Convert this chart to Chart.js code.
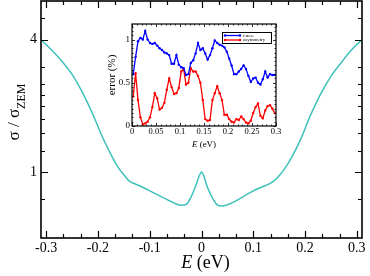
<!DOCTYPE html>
<html>
<head>
<meta charset="utf-8">
<script src="https://cdn.jsdelivr.net/npm/chart.js@4.4.1/dist/chart.umd.min.js"></script>
<style>
html, body { margin: 0; padding: 0; background: #fff; }
#wrap { position: relative; width: 370px; height: 276px; }
#main { position: absolute; left: 0; top: 0; }
#inset { position: absolute; left: 100px; top: 14px; }
</style>
</head>
<body>
<div id="wrap">
  <canvas id="main" width="370" height="276"></canvas>
  <canvas id="inset" width="190" height="136"></canvas>
</div>
<script>
// main panel: sigma / sigma_ZEM vs E
const energy = [-0.31, -0.29, -0.27, -0.25, -0.23, -0.21, -0.19, -0.17, -0.16, -0.15, -0.14, -0.13, -0.12,
  -0.10, -0.08, -0.06, -0.04, -0.03, -0.02, -0.01, -0.005, 0, 0.005, 0.01, 0.02, 0.03, 0.04, 0.06, 0.08,
  0.10, 0.12, 0.13, 0.14, 0.15, 0.16, 0.17, 0.19, 0.21, 0.23, 0.25, 0.27, 0.29, 0.31];
const sigmaRatio = [4.0, 3.6, 3.2, 2.78, 2.3, 1.83, 1.42, 1.14, 1.04, 0.97, 0.91, 0.885, 0.865,
  0.82, 0.775, 0.735, 0.705, 0.71, 0.77, 0.88, 0.95, 1.0, 0.95, 0.87, 0.77, 0.71, 0.70, 0.725, 0.77,
  0.82, 0.86, 0.88, 0.91, 0.96, 1.03, 1.12, 1.38, 1.8, 2.26, 2.72, 3.15, 3.6, 4.0];
const xTicks = [-0.3, -0.2, -0.1, 0, 0.1, 0.2, 0.3];
const xMinorTicks = [-0.3, -0.2667, -0.2333, -0.2, -0.1667, -0.1333, -0.1, -0.0667, -0.0333, 0, 0.0333, 0.0667,
  0.1, 0.1333, 0.1667, 0.2, 0.2333, 0.2667, 0.3];
const yTicks = [0.75, 1, 1.25, 1.5, 1.75, 2, 2.25, 2.5, 3, 4, 5];
const yLabels = [1, 4];

// inset: error (%) vs E
const errE = [0.0025, 0.0075, 0.0125, 0.0175, 0.0225, 0.0275, 0.0325, 0.0375, 0.0425, 0.0475,
  0.0525, 0.0575, 0.0625, 0.0675, 0.0725, 0.0775, 0.0825, 0.0875, 0.0925, 0.0975,
  0.1025, 0.1075, 0.1125, 0.1175, 0.1225, 0.1275, 0.1325, 0.1375, 0.1425, 0.1475,
  0.1525, 0.1575, 0.1625, 0.1675, 0.1725, 0.1775, 0.1825, 0.1875, 0.1925, 0.1975,
  0.2025, 0.2075, 0.2125, 0.2175, 0.2225, 0.2275, 0.2325, 0.2375, 0.2425, 0.2475,
  0.2525, 0.2575, 0.2625, 0.2675, 0.2725, 0.2775, 0.2825, 0.2875, 0.2925, 0.2975];
const rmsErr = [0.60, 0.80, 0.98, 1.02, 1.00, 1.10, 1.00, 0.96, 0.95, 0.96,
  0.93, 0.90, 0.88, 0.85, 0.84, 0.82, 0.72, 0.72, 0.82, 0.71,
  0.68, 0.67, 0.59, 0.60, 0.73, 0.76, 0.84, 0.96, 0.88, 0.90,
  0.84, 0.77, 0.82, 0.90, 0.99, 0.96, 0.94, 0.93, 0.91, 0.86,
  0.78, 0.70, 0.60, 0.60, 0.63, 0.66, 0.70, 0.66, 0.58, 0.51,
  0.55, 0.56, 0.50, 0.48, 0.54, 0.63, 0.56, 0.60, 0.59, 0.59];
const asymErr = [0.34, 0.61, 0.30, 0.10, 0.02, 0.03, 0.05, 0.10, 0.22, 0.38,
  0.32, 0.19, 0.21, 0.27, 0.42, 0.55, 0.45, 0.37, 0.38, 0.44,
  0.63, 0.66, 0.48, 0.50, 0.67, 0.63, 0.63, 0.58, 0.50, 0.30,
  0.08, 0.06, 0.07, 0.30, 0.38, 0.46, 0.38, 0.30, 0.13, 0.13,
  0.08, 0.05, 0.04, 0.08, 0.07, 0.11, 0.08, 0.04, 0.03, 0.06,
  0.15, 0.22, 0.26, 0.12, 0.09, 0.18, 0.23, 0.24, 0.20, 0.15];
const insetXTicks = [0, 0.05, 0.1, 0.15, 0.2, 0.25, 0.3];
const insetXMinor = [0.01, 0.02, 0.03, 0.04, 0.06, 0.07, 0.08, 0.09, 0.11, 0.12, 0.13, 0.14, 0.16, 0.17, 0.18, 0.19,
  0.21, 0.22, 0.23, 0.24, 0.26, 0.27, 0.28, 0.29];
const insetYTicks = [0, 0.5, 1];
const insetYMinor = [0.05, 0.1, 0.15, 0.2, 0.25, 0.3, 0.35, 0.4, 0.45, 0.55, 0.6, 0.65, 0.7, 0.75, 0.8, 0.85, 0.9, 0.95, 1.05, 1.1, 1.15];
const seriesNames = ['r.m.s.', 'asymmetry'];

const SERIF = '"Liberation Serif", "DejaVu Serif", serif';

// frame with inward ticks on all four sides
const framePlugin = {
  id: 'frame',
  afterDraw(chart, args, o) {
    const { ctx, chartArea: a } = chart;
    const x = chart.scales.x, y = chart.scales.y;
    ctx.save();
    ctx.strokeStyle = '#000';
    ctx.lineWidth = o.tickWidth;
    ctx.beginPath();
    const xt = (vals, len) => vals.forEach(v => {
      const p = Math.round(x.getPixelForValue(v)) + 0.5;
      ctx.moveTo(p, a.bottom); ctx.lineTo(p, a.bottom - len);
      ctx.moveTo(p, a.top); ctx.lineTo(p, a.top + len);
    });
    const yt = (vals, len) => vals.forEach(v => {
      const p = Math.round(y.getPixelForValue(v)) + 0.5;
      ctx.moveTo(a.left, p); ctx.lineTo(a.left + len, p);
      ctx.moveTo(a.right, p); ctx.lineTo(a.right - len, p);
    });
    xt(o.xMinor, o.minor); xt(o.xMajor, o.major);
    yt(o.yMinor, o.minor); yt(o.yMajor, o.major);
    ctx.stroke();
    ctx.lineWidth = o.border;
    ctx.strokeRect(a.left, a.top, a.width, a.height);
    ctx.restore();
  }
};

const fixAxis = (w, h) => s => {
  if (w) s.width = w;
  if (h) s.height = h;
  s.paddingLeft = 0; s.paddingRight = 0; s.paddingTop = 0; s.paddingBottom = 0;
};

// main chart titles (E italic, sigma with subscript)
const mainTitles = {
  id: 'mainTitles',
  afterDraw(chart) {
    const ctx = chart.ctx, a = chart.chartArea;
    ctx.save();
    ctx.fillStyle = '#000';
    ctx.textBaseline = 'alphabetic';
    ctx.textAlign = 'left';
    ctx.font = 'italic 18px ' + SERIF;
    const w1 = ctx.measureText('E').width;
    ctx.font = '18px ' + SERIF;
    const w2 = ctx.measureText(' (eV)').width;
    let x0 = (a.left + a.right) / 2 + 4 - (w1 + w2) / 2;
    ctx.font = 'italic 18px ' + SERIF;
    ctx.fillText('E', x0, 268);
    ctx.font = '18px ' + SERIF;
    ctx.fillText(' (eV)', x0 + w1, 268);

    ctx.translate(19, 112);
    ctx.rotate(-Math.PI / 2);
    ctx.font = '17px ' + SERIF;
    const m1 = ctx.measureText('\u03c3 / \u03c3').width;
    ctx.font = '12px ' + SERIF;
    const m2 = ctx.measureText('ZEM').width;
    const s = -(m1 + m2) / 2;
    ctx.font = '17px ' + SERIF;
    ctx.fillText('\u03c3 / \u03c3', s, 0);
    ctx.font = '12px ' + SERIF;
    ctx.fillText('ZEM', s + m1, 6);
    ctx.restore();
  }
};

new Chart(document.getElementById('main'), {
  type: 'line',
  data: {
    datasets: [{
      data: energy.map((e, i) => ({ x: e, y: sigmaRatio[i] })),
      borderColor: '#3fc1bb',
      borderWidth: 1.5,
      pointRadius: 0,
      cubicInterpolationMode: 'monotone',
      fill: false
    }]
  },
  options: {
    responsive: false,
    animation: false,
    layout: { padding: { left: 0, top: 1, right: 8, bottom: 0 } },
    plugins: {
      legend: { display: false },
      tooltip: { enabled: false },
      frame: { xMajor: xTicks, xMinor: xMinorTicks, yMajor: yLabels, yMinor: yTicks, major: 7, minor: 4, tickWidth: 1.2, border: 1.6 }
    },
    scales: {
      x: {
        type: 'linear', min: -0.31, max: 0.31,
        grid: { display: false, drawTicks: false },
        border: { display: false },
        afterBuildTicks: s => { s.ticks = xTicks.map(v => ({ value: v })); },
        afterFit: fixAxis(0, 38),
        ticks: {
          padding: 2, color: '#000', maxRotation: 0,
          font: { family: SERIF, size: 14 },
          callback: v => String(Math.round(v * 10) / 10)
        }
      },
      y: {
        type: 'logarithmic', min: 0.5, max: 6,
        grid: { display: false, drawTicks: false },
        border: { display: false },
        afterBuildTicks: s => { s.ticks = yTicks.map(v => ({ value: v })); },
        afterFit: fixAxis(41, 0),
        ticks: {
          padding: 4, color: '#000', autoSkip: false,
          font: { family: SERIF, size: 14 },
          callback: v => yLabels.includes(v) ? String(v) : ''
        }
      }
    }
  },
  plugins: [framePlugin, mainTitles]
});

// inset titles and legend
const insetDecor = {
  id: 'insetDecor',
  afterDraw(chart) {
    const ctx = chart.ctx, a = chart.chartArea;
    ctx.save();
    ctx.fillStyle = '#000';
    ctx.textBaseline = 'alphabetic';
    ctx.textAlign = 'left';
    ctx.font = 'italic 9px ' + SERIF;
    const w1 = ctx.measureText('E').width;
    ctx.font = '9px ' + SERIF;
    const w2 = ctx.measureText(' (eV)').width;
    const x0 = (a.left + a.right) / 2 - (w1 + w2) / 2;
    ctx.font = 'italic 9px ' + SERIF;
    ctx.fillText('E', x0, 133);
    ctx.font = '9px ' + SERIF;
    ctx.fillText(' (eV)', x0 + w1, 133);

    ctx.save();
    ctx.translate(15, 61);
    ctx.rotate(-Math.PI / 2);
    ctx.font = '11px ' + SERIF;
    ctx.textAlign = 'center';
    ctx.fillText('error (%)', 0, 0);
    ctx.restore();

    // legend box
    const bx = 122, by = 18, bw = 49, bh = 11;
    ctx.strokeStyle = '#000';
    ctx.lineWidth = 1;
    ctx.fillStyle = '#fff';
    ctx.fillRect(bx, by, bw, bh);
    ctx.strokeRect(bx + 0.5, by + 0.5, bw, bh);
    const cols = ['#0000ff', '#ff0000'];
    const rows = [by + 3.5, by + 8];
    chart.data.datasets.forEach((d, i) => {
      ctx.strokeStyle = cols[i];
      ctx.fillStyle = cols[i];
      ctx.lineWidth = 1.3;
      ctx.beginPath();
      ctx.moveTo(bx + 3, rows[i]); ctx.lineTo(bx + 18, rows[i]);
      ctx.stroke();
      [bx + 3, bx + 18].forEach(px => { ctx.beginPath(); ctx.arc(px, rows[i], 1.2, 0, Math.PI * 2); ctx.fill(); });
      ctx.fillStyle = '#000';
      ctx.font = '5px ' + SERIF;
      ctx.textBaseline = 'middle';
      ctx.fillText(seriesNames[i], bx + 21, rows[i]);
    });
    ctx.restore();
  }
};

new Chart(document.getElementById('inset'), {
  type: 'line',
  data: {
    datasets: [
      { label: seriesNames[0], data: errE.map((e, i) => ({ x: e, y: rmsErr[i] })),
        borderColor: '#0000ff', backgroundColor: '#0000ff', borderWidth: 1.3, pointRadius: 1.2, pointBorderWidth: 0, tension: 0 },
      { label: seriesNames[1], data: errE.map((e, i) => ({ x: e, y: asymErr[i] })),
        borderColor: '#ff0000', backgroundColor: '#ff0000', borderWidth: 1.3, pointRadius: 1.2, pointBorderWidth: 0, tension: 0 }
    ]
  },
  options: {
    responsive: false,
    animation: false,
    layout: { padding: { left: 0, top: 10, right: 14, bottom: 0 } },
    plugins: {
      legend: { display: false },
      tooltip: { enabled: false },
      frame: { xMajor: insetXTicks, xMinor: insetXMinor, yMajor: insetYTicks, yMinor: insetYMinor, major: 3, minor: 1.5, tickWidth: 0.8, border: 1.2 }
    },
    scales: {
      x: {
        type: 'linear', min: 0, max: 0.3,
        grid: { display: false, drawTicks: false },
        border: { display: false },
        afterBuildTicks: s => { s.ticks = insetXTicks.map(v => ({ value: v })); },
        afterFit: fixAxis(0, 24),
        ticks: {
          padding: 1, color: '#000', maxRotation: 0, autoSkip: false,
          font: { family: SERIF, size: 8.5 },
          callback: v => String(Math.round(v * 100) / 100)
        }
      },
      y: {
        type: 'linear', min: 0, max: 1.18,
        grid: { display: false, drawTicks: false },
        border: { display: false },
        afterBuildTicks: s => { s.ticks = insetYTicks.map(v => ({ value: v })); },
        afterFit: fixAxis(32, 0),
        ticks: {
          padding: 2, color: '#000',
          font: { family: SERIF, size: 9 },
          callback: v => String(v)
        }
      }
    }
  },
  plugins: [framePlugin, insetDecor]
});
</script>
</body>
</html>
